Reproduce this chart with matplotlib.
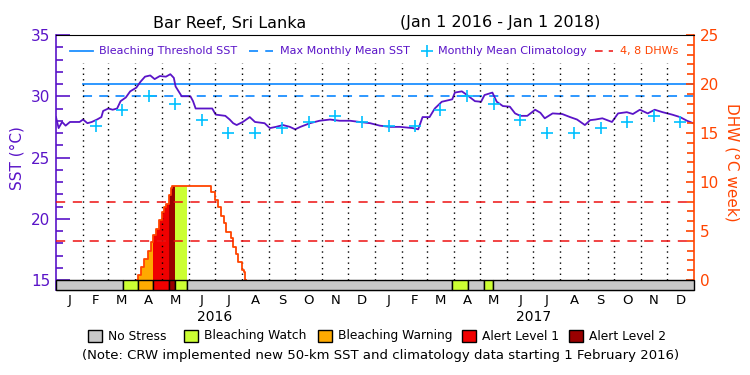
import matplotlib
matplotlib.use('Agg')
import matplotlib.pyplot as plt
from matplotlib.patches import Rectangle
from matplotlib.lines import Line2D
import numpy as np

# ---- data (days counted from 2016-01-01) ----
sst_day = [0, 3, 7, 11, 16, 27, 31, 36, 41, 47, 52, 54, 60, 65, 70, 74, 80, 85, 92, 97,
           102, 108, 113, 119, 126, 131, 135, 137, 144, 154, 157, 160, 171, 179, 183, 194,
           199, 203, 207, 214, 222, 228, 239, 245, 252, 260, 268, 274, 280, 291, 302, 314,
           325, 337, 348, 360, 371, 383, 394, 409, 415, 420, 428, 434, 442, 454, 457, 465,
           471, 480, 487, 491, 500, 505, 512, 520, 526, 532, 540, 549, 555, 560, 569, 580,
           589, 597, 606, 612, 618, 626, 637, 644, 654, 661, 669, 678, 686, 695, 706, 715,
           723, 730]
sst_val = [28.3, 27.4, 27.9, 27.6, 27.9, 27.9, 28.1, 27.8, 27.9, 28.1, 28.3, 28.8, 29.0,
           28.9, 29.0, 29.6, 29.9, 30.4, 30.7, 31.2, 31.6, 31.7, 31.4, 31.65, 31.6, 31.8,
           31.5, 30.8, 30.0, 30.0, 29.6, 29.0, 29.0, 29.0, 28.5, 28.4, 28.1, 27.8, 27.65,
           27.9, 28.3, 27.9, 27.8, 27.4, 27.5, 27.65, 27.5, 27.3, 27.5, 27.8, 28.0, 28.1,
           28.0, 28.0, 27.9, 27.8, 27.6, 27.5, 27.5, 27.4, 27.3, 28.3, 28.3, 29.0, 29.55,
           29.75, 30.3, 30.4, 30.1, 29.6, 29.55, 30.1, 30.3, 29.55, 29.2, 29.15, 28.6, 28.4,
           28.4, 28.9, 28.65, 28.2, 28.6, 28.55, 28.3, 28.1, 27.65, 28.05, 28.1, 28.2, 27.9,
           28.6, 28.7, 28.55, 28.9, 28.6, 28.9, 28.7, 28.5, 28.3, 28.0, 27.8]

# monthly mean climatology, Jan..Dec (shown from Feb 2016)
clim_val = [27.6, 27.6, 28.85, 30.0, 29.4, 28.05, 27.0, 27.0, 27.4, 27.9, 28.4, 27.9]
threshold_sst = 31.0
mmm_sst = 30.0

dhw_day = [0, 94, 97, 101, 105, 109, 111, 115, 118, 122, 124, 126, 130, 132, 133, 178,
           182, 186, 189, 192, 195, 200, 203, 206, 209, 213, 215, 217]
dhw_val = [0, 0.5, 1.3, 2.1, 3.0, 3.9, 4.6, 5.2, 6.1, 6.9, 7.5, 7.8, 8.7, 9.35, 9.6, 9.0,
           8.2, 7.5, 6.5, 5.85, 4.9, 4.25, 3.4, 2.65, 1.85, 1.0, 0.85, 0]

# stress level: 0 none, 1 watch, 2 warning, 3 alert 1, 4 alert 2
stress_start = [0, 77, 94, 111, 130, 136, 150, 454, 472, 490, 501]
stress_level = [0, 1, 2, 3, 4, 1, 0, 1, 0, 1, 0]

level_names = ['No Stress', 'Bleaching Watch', 'Bleaching Warning', 'Alert Level 1', 'Alert Level 2']
level_colors = ['#c8c8c8', '#ccff33', '#ffaa00', '#f00000', '#990000']
month_letters = ['J', 'F', 'M', 'A', 'M', 'J', 'J', 'A', 'S', 'O', 'N', 'D'] * 2

PURPLE = '#5a14c8'
ORANGE = '#ff4400'
BLUE = '#1e90ff'
CYAN = '#00c0ff'

# ---- geometry ----
W, H = 750, 375
n_days = 731
sst_bot = 15 - 10 / 12.25          # bottom of stress bar
dhw_bot = (sst_bot - 15) * 1.25

months = np.arange('2016-01', '2018-02', dtype='datetime64[M]')
mstart = (months.astype('datetime64[D]') - np.datetime64('2016-01-01')).astype(int)
mmid = (mstart[:-1] + mstart[1:]) / 2.0

fig = plt.figure(figsize=(7.5, 3.75), dpi=100)
ax = fig.add_axes([56 / W, 85 / H, 638 / W, 255 / H])
ax2 = ax.twinx()
ax.set_xlim(0, n_days)
ax.set_ylim(sst_bot, 35)
ax2.set_ylim(dhw_bot, 25)
ax2.patch.set_visible(False)

# SST line + reference lines
ax.plot(sst_day, sst_val, color=PURPLE, lw=1.3, zorder=5)
ax.plot([mstart[1], n_days], [threshold_sst] * 2, color=BLUE, lw=1.3, zorder=4)
ax.plot([mstart[1], n_days], [mmm_sst] * 2, color=BLUE, lw=1.3, ls=(0, (5, 4)), zorder=4)
clim_x = mmid[1:]
clim_y = [clim_val[i % 12] for i in range(1, 24)]
ax.plot(clim_x, clim_y, ls='none', marker='+', ms=8, mew=1.2, color=CYAN, zorder=6)

# DHW
x = np.arange(0, n_days + 1)
idx = np.searchsorted(dhw_day, x, side='right') - 1
dhw_daily = np.array(dhw_val)[idx]
dhw_daily[x > dhw_day[-1]] = 0
for i, s in enumerate(stress_start):
    e = stress_start[i + 1] if i + 1 < len(stress_start) else n_days
    lev = stress_level[i]
    if lev == 0:
        continue
    ax2.fill_between(x[s:e + 1], 0, dhw_daily[s:e + 1], step='post',
                     color=level_colors[lev], lw=0, zorder=2)

# dotted month lines
for m in mstart[1:-1]:
    ax2.plot([m, m], [0, (32.71 - 15) * 1.25], color='black', lw=1.0,
             ls=(0, (1, 3)), zorder=3)

ax2.plot(x[93:219], dhw_daily[93:219], drawstyle='steps-post', color=ORANGE, lw=1.3, zorder=4)
for lvl in (4, 8):
    ax2.plot([0, n_days], [lvl, lvl], color='#ee1111', lw=1.1, ls=(0, (6, 5)), zorder=4)

# stress bar
for i, s in enumerate(stress_start):
    e = stress_start[i + 1] if i + 1 < len(stress_start) else n_days
    ax2.add_patch(Rectangle((s, dhw_bot), e - s, -dhw_bot, facecolor=level_colors[stress_level[i]],
                            edgecolor='black', lw=1.0, zorder=6, clip_on=False))

# axes styling
for sp in ('right', 'bottom', 'left', 'top'):
    ax.spines[sp].set_visible(False)
ax2.spines['left'].set_color(PURPLE)
ax2.spines['left'].set_linewidth(1.2)
ax2.spines['right'].set_color(ORANGE)
ax2.spines['right'].set_bounds(0, 25)
ax2.spines['right'].set_linewidth(1.2)
ax2.spines['top'].set_color('black')
ax2.spines['bottom'].set_color('black')

ax.set_yticks([15, 20, 25, 30, 35])
ax.set_yticks(np.arange(16, 35), minor=True)
ax.tick_params(axis='y', which='major', direction='in', length=10, width=1.2, color=PURPLE,
               labelcolor=PURPLE, labelsize=11, pad=4)
ax.tick_params(axis='y', which='minor', direction='in', length=5, width=1.2, color=PURPLE)
ax2.set_yticks([0, 5, 10, 15, 20, 25])
ax2.set_yticks(np.arange(1, 25), minor=True)
ax2.tick_params(axis='y', which='major', direction='in', length=6, width=1.2, color=ORANGE,
                labelcolor=ORANGE, labelsize=11, pad=4)
ax2.tick_params(axis='y', which='minor', direction='in', length=5, width=1.2, color=ORANGE)

ax.set_xticks(mmid)
ax.set_xticklabels(month_letters)
ax.tick_params(axis='x', length=0, labelsize=9.5, pad=3)
ax2.tick_params(axis='x', length=0)
ax.text(mstart[6], -0.105, '2016', transform=ax.get_xaxis_transform(), ha='center',
        va='center', fontsize=10)
ax.text(mstart[18], -0.105, '2017', transform=ax.get_xaxis_transform(), ha='center',
        va='center', fontsize=10)

fig.text(17 / W, 1 - 158 / H, 'SST (°C)', rotation=90, ha='center', va='center',
         color=PURPLE, fontsize=11)
fig.text(732 / W, 1 - 162 / H, 'DHW (°C week)', rotation=270, ha='center', va='center',
         color=ORANGE, fontsize=11)

# title
fig.text(153 / W, 1 - 23 / H, 'Bar Reef, Sri Lanka', ha='left', va='center', fontsize=11.5)
fig.text(600 / W, 1 - 23 / H, '(Jan 1 2016 - Jan 1 2018)', ha='right', va='center', fontsize=11.5)

# top legend
ly = 1 - 51 / H
lfs = 8
fig.add_artist(Line2D([70 / W, 93 / W], [ly, ly], color=BLUE, lw=1.3))
fig.text(99 / W, ly, 'Bleaching Threshold SST', color=PURPLE, fontsize=lfs, va='center')
fig.add_artist(Line2D([249 / W, 273 / W], [ly, ly], color=BLUE, lw=1.3, ls=(0, (5, 4))))
fig.text(280 / W, ly, 'Max Monthly Mean SST', color=PURPLE, fontsize=lfs, va='center')
fig.add_artist(Line2D([427 / W], [ly], ls='none', marker='+', ms=8, mew=1.2, color=CYAN))
fig.text(438 / W, ly, 'Monthly Mean Climatology', color=PURPLE, fontsize=lfs, va='center')
fig.add_artist(Line2D([595 / W, 613 / W], [ly, ly], color='#ee1111', lw=1.1, ls=(0, (5, 4))))
fig.text(620 / W, ly, '4, 8 DHWs', color=ORANGE, fontsize=lfs, va='center')

# bottom legend
box_x = [88, 184, 318, 462, 569]
by = 1 - 336 / H
for bx, name, col in zip(box_x, level_names, level_colors):
    fig.add_artist(Rectangle((bx / W, by - 6 / H), 14 / W, 12 / H, facecolor=col,
                             edgecolor='black', lw=1.0, transform=fig.transFigure))
    fig.text((bx + 20) / W, by, name, fontsize=8.8, va='center')

fig.text(381 / W, 1 - 355 / H,
         '(Note: CRW implemented new 50-km SST and climatology data starting 1 February 2016)',
         ha='center', va='center', fontsize=9.5)

fig.savefig('out.png', dpi=100)
